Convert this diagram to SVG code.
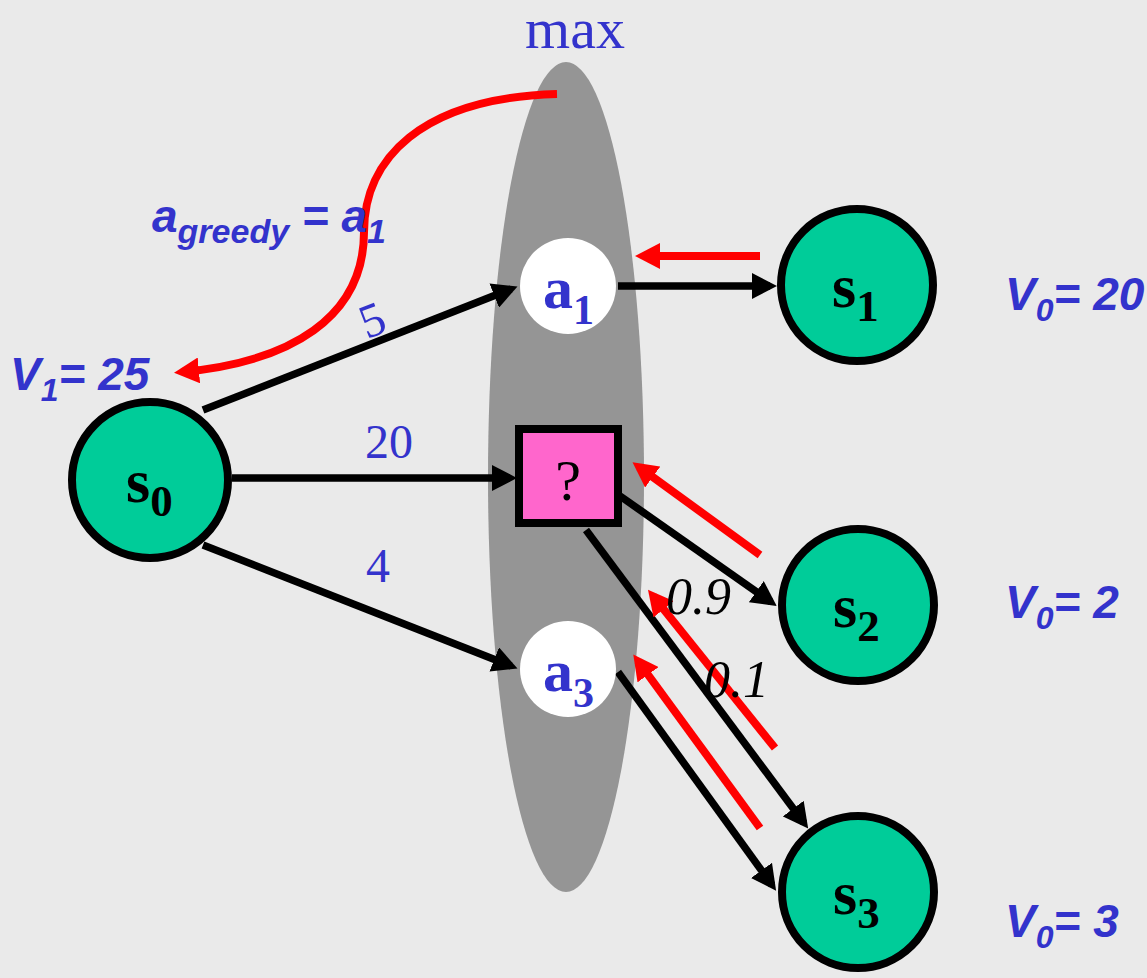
<svg xmlns="http://www.w3.org/2000/svg" width="1147" height="978" viewBox="0 0 1147 978">
<defs>
<marker id="ab" markerUnits="userSpaceOnUse" markerWidth="26" markerHeight="26" refX="18" refY="13" orient="auto"><path d="M0,0 L25,13 L0,26 z" fill="#000"/></marker>
<marker id="ar" markerUnits="userSpaceOnUse" markerWidth="26" markerHeight="26" refX="17" refY="13" orient="auto"><path d="M0,0 L25,13 L0,26 z" fill="#FF0000"/></marker>
<style>
.st{fill:#00CC99;stroke:#000;stroke-width:8}
.ac{fill:#fff}
.bl{stroke:#000;stroke-width:7.5;fill:none;marker-end:url(#ab)}
.rd{stroke:#FF0000;stroke-width:8;fill:none;marker-end:url(#ar)}
.sl{font-family:"Liberation Serif",serif;font-weight:bold;font-size:62px;fill:#000}
.al{font-family:"Liberation Serif",serif;font-weight:bold;font-size:60px;fill:#3333CC}
.num{font-family:"Liberation Serif",serif;font-size:48px;fill:#3333CC}
.pr{font-family:"Liberation Serif",serif;font-style:italic;font-size:52px;fill:#000}
.v{font-family:"Liberation Sans",Arial,sans-serif;font-weight:bold;font-style:italic;font-size:46px;fill:#3333CC}
</style>
</defs>
<rect width="1147" height="978" fill="#EAEAEA"/>
<ellipse cx="566" cy="477" rx="78" ry="415" fill="#959595"/>
<text x="575" y="48" text-anchor="middle" style="font-family:'Liberation Serif',serif;font-size:58px;fill:#3333CC">max</text>
<g id="connectors">
<line class="bl" x1="203" y1="410" x2="511" y2="289"/>
<line class="bl" x1="232" y1="478" x2="510" y2="478"/>
<line class="bl" x1="203" y1="545" x2="511" y2="666"/>
<line class="bl" x1="618" y1="286" x2="770" y2="286"/>
<line class="bl" x1="620" y1="496" x2="771" y2="602"/>
<line class="bl" x1="586" y1="530" x2="804" y2="823"/>
<line class="bl" x1="618" y1="672" x2="772" y2="885"/>
<line class="rd" x1="760" y1="256" x2="643" y2="256"/>
<line class="rd" x1="760" y1="555" x2="639" y2="467"/>
<line class="rd" x1="775" y1="748" x2="653" y2="596"/>
<line class="rd" x1="760" y1="828" x2="638" y2="661"/>
<path class="rd" d="M557,94 C420,98 364,160 364,232 C364,318 290,362 182,372"/>
</g>
<g id="s0"><circle class="st" cx="150" cy="480" r="78"/><text class="sl" x="126" y="502">s<tspan font-size="45px" dy="14">0</tspan></text></g>
<g id="s1"><circle class="st" cx="857" cy="285" r="76"/><text class="sl" x="832" y="307">s<tspan font-size="45px" dy="14">1</tspan></text></g>
<g id="s2"><circle class="st" cx="858" cy="605" r="76"/><text class="sl" x="833" y="627">s<tspan font-size="45px" dy="14">2</tspan></text></g>
<g id="s3"><circle class="st" cx="858" cy="892" r="76"/><text class="sl" x="833" y="914">s<tspan font-size="45px" dy="14">3</tspan></text></g>
<g id="a1"><circle class="ac" cx="568" cy="286" r="48"/><text class="al" x="543" y="308">a<tspan font-size="42px" dy="16">1</tspan></text></g>
<g id="a3"><circle class="ac" cx="568" cy="669" r="48"/><text class="al" x="543" y="691">a<tspan font-size="42px" dy="16">3</tspan></text></g>
<g id="q"><rect x="519" y="429" width="99" height="94" fill="#FF66CC" stroke="#000" stroke-width="8"/><text x="568" y="500" text-anchor="middle" style="font-family:'Liberation Serif',serif;font-size:58px;fill:#000">?</text></g>
<text class="num" x="378" y="335" transform="rotate(-21 378 335)" text-anchor="middle">5</text>
<text class="num" x="389" y="458" text-anchor="middle">20</text>
<text class="num" x="378" y="582" text-anchor="middle">4</text>
<text class="pr" x="666" y="614">0.9</text>
<text class="pr" x="704" y="697">0.1</text>
<text class="v" x="152" y="232" font-size="50px">a<tspan font-size="34px" dy="11">greedy</tspan><tspan dy="-11"> = a</tspan><tspan font-size="34px" dy="11">1</tspan></text>
<text class="v" x="10" y="390">V<tspan font-size="32px" dy="11">1</tspan><tspan dy="-11">= 25</tspan></text>
<text class="v" x="1005" y="310">V<tspan font-size="32px" dy="11">0</tspan><tspan dy="-11">= 20</tspan></text>
<text class="v" x="1005" y="618">V<tspan font-size="32px" dy="11">0</tspan><tspan dy="-11">= 2</tspan></text>
<text class="v" x="1005" y="937">V<tspan font-size="32px" dy="11">0</tspan><tspan dy="-11">= 3</tspan></text>
</svg>
